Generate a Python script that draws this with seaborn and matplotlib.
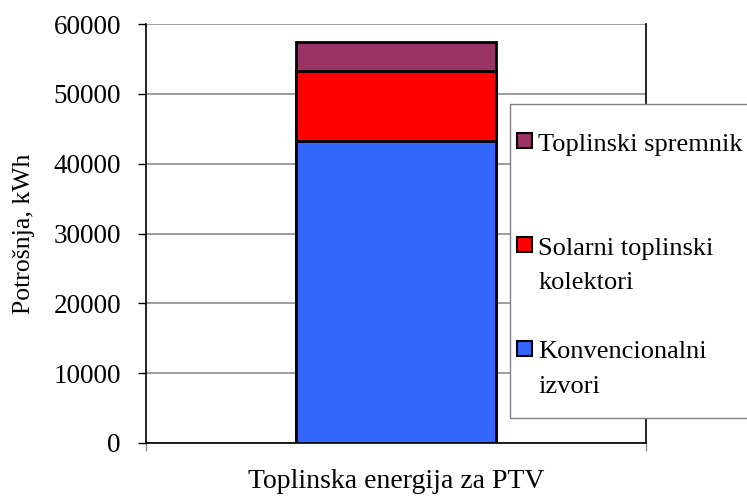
import matplotlib
matplotlib.use("Agg")
import matplotlib.pyplot as plt
from matplotlib.patches import Patch, Rectangle
from matplotlib.legend_handler import HandlerPatch
import seaborn as sns
import pandas as pd

# Heat energy for domestic hot water, split by source (kWh)
category = ["Toplinska energija za PTV"]
konvencionalni = [43200]
solarni = [10100]
spremnik = [4100]

series_names = ["Konvencionalni\nizvori", "Solarni toplinski\nkolektori", "Toplinski spremnik"]
series_colors = ["#3366FF", "#FF0000", "#993366"]
y_ticks = [0, 10000, 20000, 30000, 40000, 50000, 60000]

sns.set_theme(style="white")
plt.rcParams["font.family"] = ["Liberation Serif", "DejaVu Serif"]
plt.rcParams["text.color"] = "black"
plt.rcParams["axes.labelcolor"] = "black"
plt.rcParams["xtick.color"] = "black"
plt.rcParams["ytick.color"] = "black"

LEG_LINESPACING = 1.72


class FirstLineHandler(HandlerPatch):
    """Square legend key aligned with the first line of a two-line label."""

    def create_artists(self, legend, orig_handle, xdescent, ydescent,
                       width, height, fontsize, trans):
        shift = 0.5 * LEG_LINESPACING * 0.9 * fontsize
        p = Rectangle((-xdescent, -ydescent + shift), width, height)
        self.update_prop(p, orig_handle, legend)
        p.set_transform(trans)
        return [p]


fig = plt.figure(figsize=(7.47, 4.96), dpi=100)
ax = fig.add_axes([146 / 747, 53 / 496, 500 / 747, 419 / 496])

# stacked bar: draw cumulative totals from the top layer down
layers = [konvencionalni, solarni, spremnik]
cumulative = []
running = [0] * len(category)
for vals in layers:
    running = [r + v for r, v in zip(running, vals)]
    cumulative.append(list(running))

for tot, color in zip(reversed(cumulative), reversed(series_colors)):
    df = pd.DataFrame({"cat": category, "val": tot})
    sns.barplot(data=df, x="cat", y="val", color=color, saturation=1,
                width=0.4, edgecolor="black", linewidth=2, ax=ax, zorder=3)

ax.set_xlim(-0.5, 0.5)
ax.set_ylim(0, 60000)
ax.set_yticks(y_ticks)
ax.set_yticklabels([str(t) for t in y_ticks], fontsize=19.5)
ax.yaxis.grid(True, color="#8c8c8c", linewidth=1.2, zorder=0)
ax.set_axisbelow(True)
ax.tick_params(axis="y", left=True, length=6, width=1, color="black", pad=12)
ax.set_xticks([-0.5, 0.5])
ax.set_xticklabels(["", ""])
ax.tick_params(axis="x", bottom=True, length=6, width=1, color="#8c8c8c")
ax.set_xlabel(category[0], fontsize=20, labelpad=9)
ax.set_ylabel("Potrošnja, kWh", fontsize=18.5, labelpad=13)

for side in ["left", "bottom", "right"]:
    ax.spines[side].set_visible(True)
    ax.spines[side].set_color("black")
    ax.spines[side].set_linewidth(1.2)
ax.spines["top"].set_visible(False)

# legend box, running off the right edge of the figure
fig.patches.append(Rectangle((510 / 747, 1 - 418 / 496), 260 / 747, 314 / 496,
                             transform=fig.transFigure, facecolor="white",
                             edgecolor="#808080", linewidth=1, zorder=5))

handles = [Patch(facecolor=c, edgecolor="black", linewidth=1.5) for c in series_colors]
labels = list(series_names)
labels[2] = labels[2] + "\n"
leg = fig.legend(handles[::-1], labels[::-1], loc="upper left",
                 bbox_to_anchor=(517 / 747, 1 - 134 / 496), fontsize=19,
                 frameon=False, handlelength=0.55, handleheight=0.5,
                 handletextpad=0.25, labelspacing=1.8, borderpad=0,
                 borderaxespad=0,
                 handler_map={Patch: FirstLineHandler()})
for t in leg.get_texts():
    t.set_linespacing(LEG_LINESPACING)
leg.set_zorder(6)

fig.savefig("out.png", dpi=100)
